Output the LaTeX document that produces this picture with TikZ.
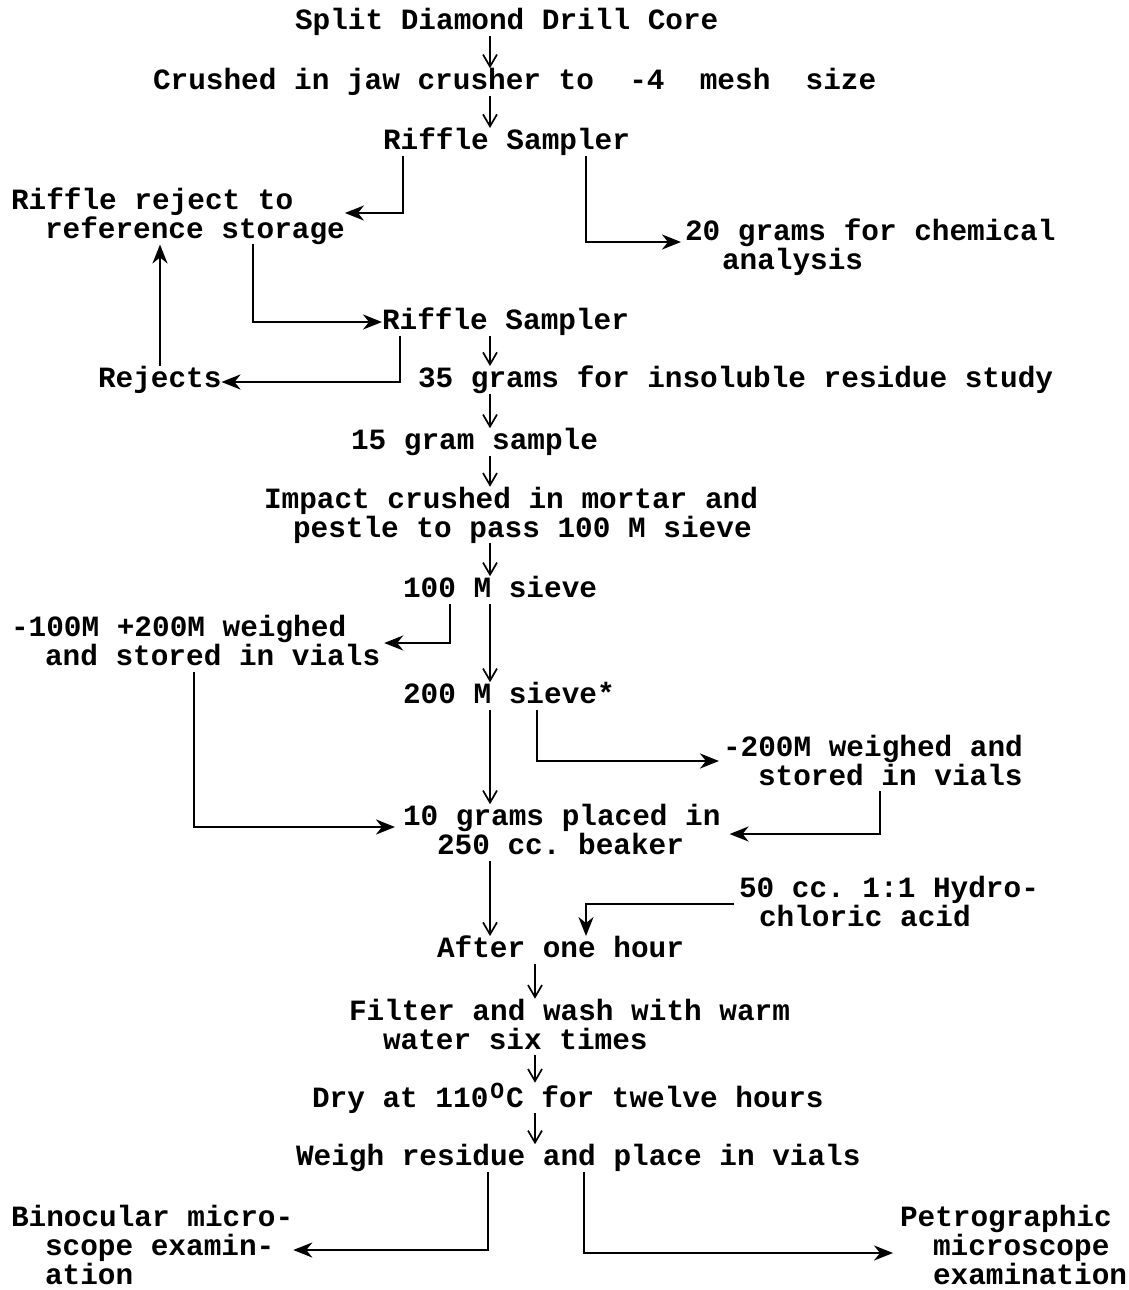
\documentclass[tikz,border=0pt]{standalone}
\usepackage{fontspec}
\setmainfont{Liberation Mono}
\usetikzlibrary{arrows.meta}
\frenchspacing
\newcommand\ind[1]{\hspace*{#1pt}}
\newcommand\degO{\makebox[17.66pt][c]{\raisebox{9pt}{\fontsize{23}{23}\selectfont O}}}
\begin{document}
\frenchspacing
\begin{tikzpicture}[x=1pt,y=-1pt,
  txt/.style={font=\fontsize{29.4}{29}\selectfont\bfseries\frenchspacing, inner sep=0pt, outer sep=0pt,
    anchor=west, align=left,
    execute at begin node=\vphantom{Ag}, execute at end node=\vphantom{g}},
  varr/.style={draw, line width=1.7pt, -{Straight Barb[length=12pt,width=14pt,line width=1.7pt]}},
  harr/.style={draw, line width=2.4pt, -{Stealth[length=19pt,width=15pt,inset=6pt]}}]
\useasboundingbox (0,0) rectangle (1128,1290);

% nodes
\node[txt] (n1) at (295,22) {Split Diamond Drill Core};
\node[txt] (n2) at (153,82) {Crushed in jaw crusher to\ \ -4\ \ mesh\ \ size};
\node[txt] (n3) at (383,142) {Riffle Sampler};
\node[txt] (n4) at (11,216) {Riffle reject to\\\ind{34}reference storage};
\node[txt] (n5) at (685,247) {20 grams for chemical\\\ind{37}analysis};
\node[txt] (n6) at (382,322) {Riffle Sampler};
\node[txt] (n7) at (98,380) {Rejects};
\node[txt] (n8) at (418,380) {35 grams for insoluble residue study};
\node[txt] (n9) at (351,442) {15 gram sample};
\node[txt] (n10) at (264,515) {Impact crushed in mortar and\\\ind{29}pestle to pass 100 M sieve};
\node[txt] (n11) at (403,590) {100 M sieve};
\node[txt] (n12) at (11,643.5) {-100M +200M weighed\\\ind{34}and stored in vials};
\node[txt] (n13) at (403,696) {200 M sieve*};
\node[txt] (n14) at (723,763) {-200M weighed and\\\ind{35}stored in vials};
\node[txt] (n15) at (403,832.5) {10 grams placed in\\\ind{34}250 cc. beaker};
\node[txt] (n16) at (739,904) {50 cc. 1:1 Hydro-\\\ind{20}chloric acid};
\node[txt] (n17) at (437,950) {After one hour};
\node[txt] (n18) at (349,1027) {Filter and wash with warm\\\ind{34}water six times};
\node[txt] (n19) at (312,1098) {Dry at 110\degO{}C for twelve hours};
\node[txt] (n20) at (296,1158) {Weigh residue and place in vials};
\node[txt] (n21) at (11,1248) {Binocular micro-\\\ind{34}scope examin-\\\ind{34}ation};
\node[txt] (n22) at (900,1248) {Petrographic\\\ind{33}microscope\\\ind{33}examination};

% x positions / bend points
\coordinate (v490) at (490,0);
\coordinate (v535) at (535,0);
\coordinate (v160) at (160,0);
\coordinate (b3) at (403,213);
\coordinate (b4) at (586,242);
\coordinate (b5) at (253,322);
\coordinate (b6) at (400,382);
\coordinate (b12) at (450,643);
\coordinate (b14) at (537,761);
\coordinate (b16) at (194,827);
\coordinate (b17) at (880,834);
\coordinate (b19) at (586,904);
\coordinate (b23) at (488,1250);
\coordinate (b24) at (584,1253);

% connectors
\draw[varr] (n1.south -| v490) -- (n2.north -| v490);
\draw[varr] (n2.south -| v490) -- (n3.north -| v490);
\draw[harr] (n3.south -| b3) -- (b3) -- (n4.east |- b3);
\draw[harr] (n3.south -| b4) -- (b4) -- ([xshift=-4pt]n5.west |- b4);
\draw[harr] (n4.south -| b5) -- (b5) -- (n6.west |- b5);
\draw[harr] (n6.south -| b6) -- (b6) -- (n7.east |- b6);
\draw[harr] (n7.north -| v160) -- (n4.south -| v160);
\draw[varr] (n6.south -| v490) -- (n8.north -| v490);
\draw[varr] (n8.south -| v490) -- (n9.north -| v490);
\draw[varr] (n9.south -| v490) -- (n10.north -| v490);
\draw[varr] (n10.south -| v490) -- (n11.north -| v490);
\draw[harr] (n11.south -| b12) -- (b12) -- ([xshift=4pt]n12.east |- b12);
\draw[varr] (n11.south -| v490) -- (n13.north -| v490);
\draw[harr] (n13.south -| b14) -- (b14) -- ([xshift=-4pt]n14.west |- b14);
\draw[varr] (n13.south -| v490) -- (n15.north -| v490);
\draw[harr] (n12.south -| b16) -- (b16) -- ([xshift=-8pt]n15.west |- b16);
\draw[harr] (n14.south -| b17) -- (b17) -- ([xshift=9pt]n15.east |- b17);
\draw[varr] (n15.south -| v490) -- (n17.north -| v490);
\draw[harr] ([xshift=-5pt]n16.west |- b19) -- (b19) -- (n17.north -| b19);
\draw[varr] (n17.south -| v535) -- (n18.north -| v535);
\draw[varr] (n18.south -| v535) -- (n19.north -| v535);
\draw[varr] (n19.south -| v535) -- (n20.north -| v535);
\draw[harr] (n20.south -| b23) -- (b23) -- (n21.east |- b23);
\draw[harr] (n20.south -| b24) -- (b24) -- ([xshift=-7pt]n22.west |- b24);
\end{tikzpicture}
\end{document}
